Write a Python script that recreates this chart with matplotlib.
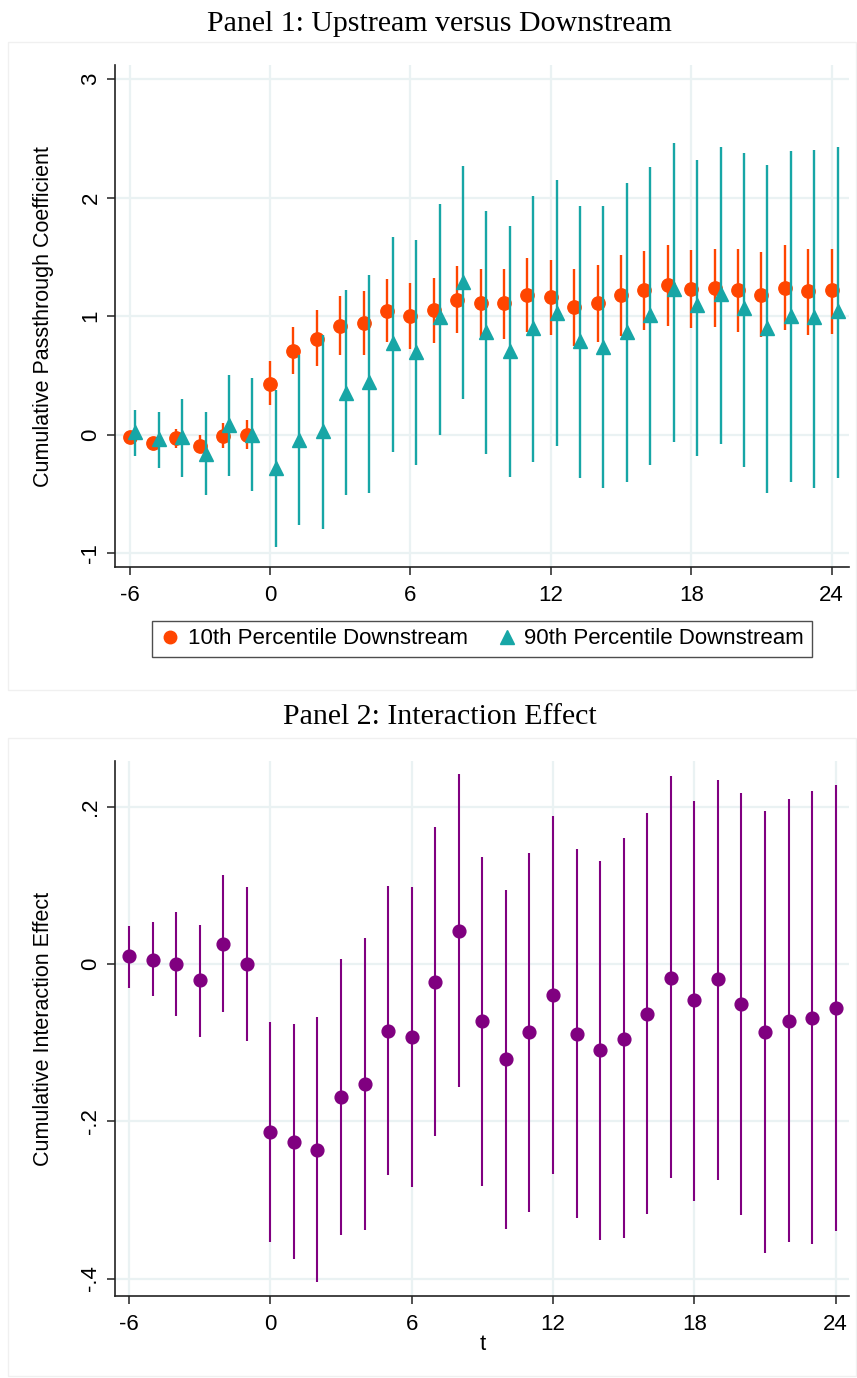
import numpy as np
import matplotlib
matplotlib.use("Agg")
import matplotlib.pyplot as plt
from matplotlib.patches import Rectangle

# event time
t = np.arange(-6, 25)

# Panel 1: 10th percentile downstream (coef, lower, upper)
p10_coef = [-0.02, -0.07, -0.03, -0.095, -0.01, 0.00, 0.43, 0.71, 0.81, 0.92, 0.94,
            1.04, 1.00, 1.05, 1.14, 1.11, 1.11, 1.18, 1.16, 1.08, 1.11, 1.18,
            1.22, 1.26, 1.23, 1.24, 1.22, 1.18, 1.24, 1.21, 1.22]
p10_lo = [-0.05, -0.11, -0.11, -0.14, -0.11, -0.12, 0.25, 0.51, 0.58, 0.67, 0.67,
          0.78, 0.72, 0.77, 0.86, 0.82, 0.81, 0.87, 0.84, 0.75, 0.78, 0.83,
          0.88, 0.92, 0.90, 0.91, 0.87, 0.82, 0.88, 0.84, 0.85]
p10_hi = [0.01, -0.03, 0.05, 0.00, 0.10, 0.12, 0.62, 0.91, 1.05, 1.17, 1.21,
          1.31, 1.28, 1.32, 1.42, 1.40, 1.40, 1.49, 1.47, 1.40, 1.43, 1.52,
          1.55, 1.60, 1.56, 1.57, 1.57, 1.54, 1.60, 1.57, 1.57]

# Panel 1: 90th percentile downstream
p90_coef = [0.02, -0.04, -0.02, -0.16, 0.08, 0.00, -0.28, -0.045, 0.03, 0.35, 0.44,
            0.77, 0.70, 0.99, 1.29, 0.87, 0.71, 0.90, 1.03, 0.79, 0.74, 0.87,
            1.01, 1.23, 1.09, 1.19, 1.07, 0.90, 1.00, 0.99, 1.04]
p90_lo = [-0.18, -0.28, -0.36, -0.51, -0.35, -0.48, -0.95, -0.76, -0.80, -0.51, -0.49,
          -0.15, -0.26, 0.00, 0.30, -0.16, -0.36, -0.23, -0.10, -0.37, -0.45, -0.40,
          -0.26, -0.06, -0.18, -0.08, -0.27, -0.49, -0.40, -0.45, -0.37]
p90_hi = [0.21, 0.19, 0.30, 0.19, 0.50, 0.48, 0.38, 0.67, 0.84, 1.22, 1.35,
          1.67, 1.64, 1.95, 2.27, 1.89, 1.76, 2.01, 2.15, 1.93, 1.93, 2.12,
          2.26, 2.46, 2.32, 2.43, 2.38, 2.28, 2.39, 2.40, 2.43]

# Panel 2: interaction effect
int_coef = [0.010, 0.006, 0.000, -0.020, 0.026, 0.000, -0.214, -0.226, -0.236, -0.169, -0.152,
            -0.085, -0.092, -0.022, 0.042, -0.072, -0.121, -0.086, -0.039, -0.089, -0.109, -0.095,
            -0.063, -0.017, -0.046, -0.019, -0.050, -0.086, -0.072, -0.068, -0.056]
int_lo = [-0.030, -0.041, -0.066, -0.092, -0.061, -0.098, -0.354, -0.375, -0.405, -0.345, -0.338,
          -0.268, -0.283, -0.219, -0.156, -0.282, -0.337, -0.315, -0.267, -0.323, -0.351, -0.349,
          -0.318, -0.272, -0.301, -0.274, -0.319, -0.367, -0.354, -0.356, -0.340]
int_hi = [0.049, 0.054, 0.066, 0.050, 0.113, 0.098, -0.074, -0.076, -0.067, 0.007, 0.034,
          0.099, 0.098, 0.175, 0.242, 0.136, 0.095, 0.141, 0.189, 0.147, 0.132, 0.160,
          0.192, 0.239, 0.208, 0.235, 0.218, 0.195, 0.210, 0.220, 0.228]

xticks = [-6, 0, 6, 12, 18, 24]
top_yticks = [-1, 0, 1, 2, 3]
top_ylabels = ["-1", "0", "1", "2", "3"]
bot_yticks = [-0.4, -0.2, 0.0, 0.2]
bot_ylabels = ["-.4", "-.2", "0", ".2"]

ORANGE = "#FF4500"
TEAL = "#17A6A6"
PURPLE = "#800080"
GRID = "#EAF2F3"
W, H = 857, 1378

plt.rcParams['font.family'] = ['Liberation Sans', 'DejaVu Sans']

fig = plt.figure(figsize=(W / 100, H / 100), dpi=100)

# faint panel frames, Stata style
for top, bot in [(42, 690), (738, 1376)]:
    fig.patches.append(Rectangle((8 / W, 1 - bot / H), 1 - 9 / W, (bot - top) / H,
                                 transform=fig.transFigure, fill=False,
                                 edgecolor="#F0F0F0", linewidth=1))


def px_axes(left, top, right, bottom):
    return fig.add_axes([left / W, 1 - bottom / H, (right - left) / W, (bottom - top) / H])


def style_axis(ax, ylab):
    for s in ["top", "right"]:
        ax.spines[s].set_visible(False)
    for s in ["left", "bottom"]:
        ax.spines[s].set_linewidth(1.2)
        ax.spines[s].set_color("#222222")
    ax.grid(True, color=GRID, linewidth=1.6)
    ax.set_axisbelow(True)
    ax.tick_params(axis="both", length=6, width=1.1, labelsize=16, color="#222222")
    ax.tick_params(axis="x", pad=7)
    ax.tick_params(axis="y", pad=4)
    ax.set_xticks(xticks)
    ax.set_xticklabels([str(v) for v in xticks])
    for lab in ax.get_yticklabels():
        lab.set_rotation(90)
        lab.set_va("center")
    ax.set_ylabel(ylab, fontsize=15.5)
    ax.yaxis.set_label_coords((54 - 115.3) / (849 - 115.3), 0.5)


# ---------- Panel 1 ----------
ax1 = px_axes(115.3, 65, 849, 567.3)
p10_c = np.array(p10_coef)
p90_c = np.array(p90_coef)
ax1.errorbar(t, p10_c, yerr=[p10_c - np.array(p10_lo), np.array(p10_hi) - p10_c],
             fmt="o", color=ORANGE, ms=9.6, elinewidth=1.7, capsize=0, zorder=3)
ax1.errorbar(t + 0.25, p90_c, yerr=[p90_c - np.array(p90_lo), np.array(p90_hi) - p90_c],
             fmt="^", color=TEAL, ms=10.5, elinewidth=1.7, capsize=0, zorder=4)
ax1.set_xlim(-6.61, 24.74)
ax1.set_ylim(-1.12, 3.12)
ax1.set_yticks(top_yticks)
ax1.set_yticklabels(top_ylabels)
style_axis(ax1, "Cumulative Passthrough Coefficient")

h1 = plt.Line2D([], [], marker="o", color=ORANGE, linestyle="none", ms=9)
h2 = plt.Line2D([], [], marker="^", color=TEAL, linestyle="none", ms=10)
fig.legend([h1, h2], ["10th Percentile Downstream", "90th Percentile Downstream"],
           loc="center", bbox_to_anchor=(482 / W, 1 - 639 / H), ncol=2,
           fontsize=16, frameon=True, fancybox=False, edgecolor="#222222",
           handletextpad=0.35, columnspacing=1.3, handlelength=0.9, borderpad=0.35,
           borderaxespad=0)

fig.text(439 / W, 1 - 24 / H, "Panel 1: Upstream versus Downstream", ha="center", va="center",
         fontsize=21.5, family=["Liberation Serif", "DejaVu Serif"])

# ---------- Panel 2 ----------
ax2 = px_axes(115.3, 760.7, 849.3, 1296.4)
ic = np.array(int_coef)
ax2.errorbar(t, ic, yerr=[ic - np.array(int_lo), np.array(int_hi) - ic],
             fmt="o", color=PURPLE, ms=9.2, elinewidth=1.5, capsize=0, zorder=3)
ax2.set_xlim(-6.58, 24.58)
ax2.set_ylim(-0.4227, 0.259)
ax2.set_yticks(bot_yticks)
ax2.set_yticklabels(bot_ylabels)
style_axis(ax2, "Cumulative Interaction Effect")
ax2.set_xlabel("t", fontsize=16, labelpad=-1)

fig.text(440 / W, 1 - 717 / H, "Panel 2: Interaction Effect", ha="center", va="center",
         fontsize=21.5, family=["Liberation Serif", "DejaVu Serif"])

fig.savefig("out.png", dpi=100, facecolor="white")
